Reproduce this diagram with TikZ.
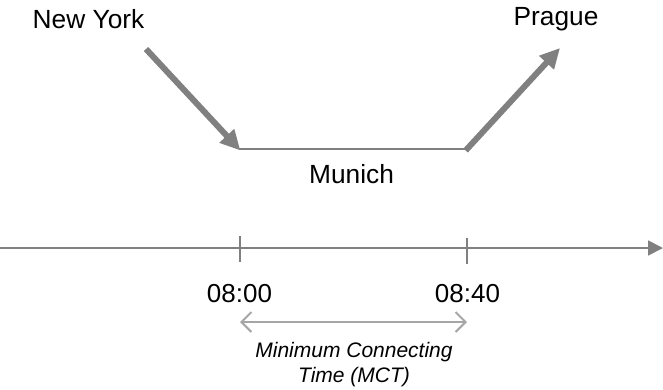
\documentclass[tikz,border=0pt]{standalone}
\usepackage{fontspec}
\setmainfont{Liberation Sans}
\usetikzlibrary{arrows.meta}
\definecolor{flight}{HTML}{808080}
\definecolor{mctgray}{HTML}{A6A6A6}
\begin{document}
\begin{tikzpicture}[x=1pt,y=-1pt,
  city/.style={font=\fontsize{26.3}{30}\selectfont, anchor=base, inner sep=0pt},
  clock/.style={font=\fontsize{26}{30}\selectfont, anchor=base, inner sep=0pt},
  note/.style={font=\itshape\fontsize{21}{24.5}\selectfont, align=center, anchor=north, inner sep=0pt},
  leg/.style={draw=flight, line width=6pt, -{Triangle[length=20pt,width=19pt]}, shorten >=-2pt},
  ground/.style={draw=flight, line width=1.6pt},
  axis/.style={draw=flight, line width=1.8pt, -{Triangle[length=15pt,width=15pt]}},
  tick/.style={draw=flight, line width=1.2pt},
  span/.style={draw=mctgray, line width=2pt, {Straight Barb[length=10pt,width=20pt]}-{Straight Barb[length=10pt,width=20pt]}}
]
\useasboundingbox (0,0) rectangle (663,389);

% cities
\node[city] (ny) at (88.5,28) {New York};
\node[city] (prg) at (556,25) {Prague};
\node[city] (muc) at (351.5,183) {Munich};

% flight path
\coordinate (nyfrom) at (146,49);
\coordinate (arr) at (239,149);
\coordinate (dep) at (467,149);
\coordinate (prgto) at (560,48);
\draw[ground] (arr) -- (dep);
\draw[leg] (nyfrom) -- (arr);
\draw[leg, shorten <=-2pt, shorten >=0pt] (dep) -- (prgto);

% time axis
\coordinate (tstart) at (0,248);
\coordinate (tend) at (663,248);
\draw[axis] (tstart) -- (tend);
\coordinate (t1top) at (240,236);
\coordinate (t1bot) at (240,262);
\coordinate (t2top) at (467,238);
\coordinate (t2bot) at (467,264);
\draw[tick] (t1top) -- (t1bot);
\draw[tick] (t2top) -- (t2bot);

\node[clock] (t1) at (239.5,302) {08:00};
\node[clock] (t2) at (467.5,302) {08:40};

% connecting time span
\coordinate (sa) at (240,322);
\coordinate (sb) at (467,322);
\draw[span] (sa) -- (sb);
\node[note] (mct) at (354,342.5) {Minimum Connecting\\Time (MCT)};
\end{tikzpicture}
\end{document}
